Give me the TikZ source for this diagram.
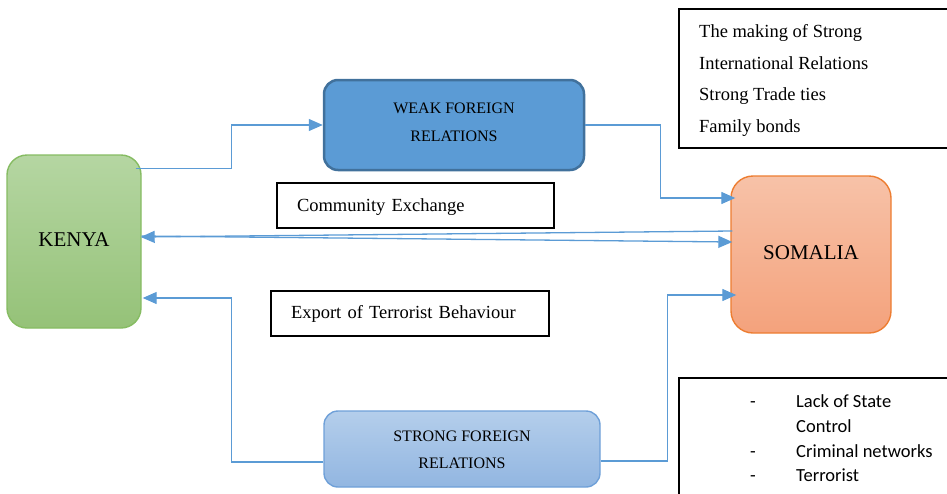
\documentclass[tikz,border=0pt]{standalone}
\usepackage{fontspec}
\setmainfont{Liberation Serif}
\newfontfamily\calib{Carlito}
\usetikzlibrary{arrows.meta,calc}
\definecolor{conncol}{HTML}{5B9BD5}
\definecolor{kenyatop}{HTML}{B5D6A2}
\definecolor{kenyabot}{HTML}{95C278}
\definecolor{kenyaline}{HTML}{86BC62}
\definecolor{somtop}{HTML}{F7C2A8}
\definecolor{sombot}{HTML}{F4A27C}
\definecolor{somline}{HTML}{ED7D31}
\definecolor{weakfill}{HTML}{5B9BD5}
\definecolor{weakline}{HTML}{41719C}
\definecolor{strongtop}{HTML}{B4CEEB}
\definecolor{strongbot}{HTML}{92B6E1}
\definecolor{strongline}{HTML}{6FA0D8}
\begin{document}
\begin{tikzpicture}[x=1pt,y=-1pt,
  conn/.style={draw=conncol,line width=1.3pt,-{Triangle[length=14pt,width=12pt]}},
  textbox/.style={draw=black,line width=1.1pt,fill=white,inner ysep=0pt},
  boxlabel/.style={font=\fontsize{16}{27.5}\selectfont,align=center,inner sep=0pt},
  bigbox/.style={font=\fontsize{21}{24}\selectfont,text height=14pt,text depth=4pt}
]
\useasboundingbox (0,0) rectangle (947,493);

% main boxes
\node[bigbox,draw=kenyaline,line width=1.4pt,top color=kenyatop,bottom color=kenyabot,
  rounded corners=20pt,minimum width=134pt,minimum height=173pt] (kenya) at (74,241.5) {KENYA};
\node[bigbox,draw=somline,line width=1.4pt,top color=somtop,bottom color=sombot,
  rounded corners=22pt,minimum width=160pt,minimum height=157pt] (somalia) at (811,254.5) {SOMALIA};
\node[draw=weakline,line width=2.5pt,fill=weakfill,
  rounded corners=14pt,minimum width=260pt,minimum height=90pt] (weak) at (454,125) {};
\node[boxlabel] (weaktext) at (454,122.5) {WEAK FOREIGN\\RELATIONS};
\node[draw=strongline,line width=1.4pt,top color=strongtop,bottom color=strongbot,
  rounded corners=14pt,minimum width=276pt,minimum height=76pt] (strong) at (462,449) {};
\node[boxlabel] (strongtext) at (462,450) {STRONG FOREIGN\\RELATIONS};

% text boxes
\node[textbox,font=\fontsize{18.5}{22}\selectfont,minimum height=45pt,inner xsep=20pt,
  text width=237pt,align=left,text height=16.7pt,text depth=4pt] (comm) at (415.5,205.5) {Community Exchange};
\node[textbox,font=\fontsize{18.5}{22}\selectfont,minimum height=45pt,inner xsep=20pt,
  text width=238pt,align=left,text height=14.7pt,text depth=4pt] (export) at (410,313.5) {Export of Terrorist Behaviour};
\node[textbox,minimum width=271pt,minimum height=139pt] (making) at (814.5,78.5) {};
\node[anchor=west,inner sep=0pt,font=\fontsize{18.5}{31.7}\selectfont,align=left] (makingtext) at (699,80.5)
  {The making of Strong\\International Relations\\Strong Trade ties\\Family bonds};
\node[textbox,minimum width=271pt,minimum height=120pt] (factors) at (814.5,438) {};
\node[anchor=west,inner sep=0pt,font=\calib\fontsize{18.5}{24.7}\selectfont] (factorstext) at (750,440)
  {\begin{tabular}{@{}p{46pt}@{}l@{}}-&Lack of State\\&Control\\-&Criminal networks\\-&Terrorist\end{tabular}};

% anchor coordinates
\coordinate (k1) at ($(kenya.north east)+(-6,14)$);
\coordinate (s1) at ($(somalia.west)+(5,-56.5)$);
\coordinate (s2out) at ($(somalia.west)+(2,-23.5)$);
\coordinate (k2in) at ($(kenya.east)+(-1,-4.5)$);
\coordinate (k2out) at ($(kenya.east)+(0,-5.5)$);
\coordinate (s2in) at ($(somalia.west)+(2,-12.5)$);
\coordinate (k3) at ($(kenya.east)+(1,56.5)$);
\coordinate (s3) at ($(somalia.west)+(6,40.5)$);

% connectors
\draw[conn] (k1) -- ++(96,0) |- (weak.west);
\draw[conn] (weak.east) -- ++(75,0) |- (s1);
\draw[conn] (s2out) -- (k2in);
\draw[conn] (k2out) -- (s2in);
\draw[conn] ($(strong.west)+(0,13)$) -- ++(-92,0) |- (k3);
\draw[conn] ($(strong.east)+(0,12)$) -- ++(67,0) |- (s3);
\end{tikzpicture}
\end{document}
